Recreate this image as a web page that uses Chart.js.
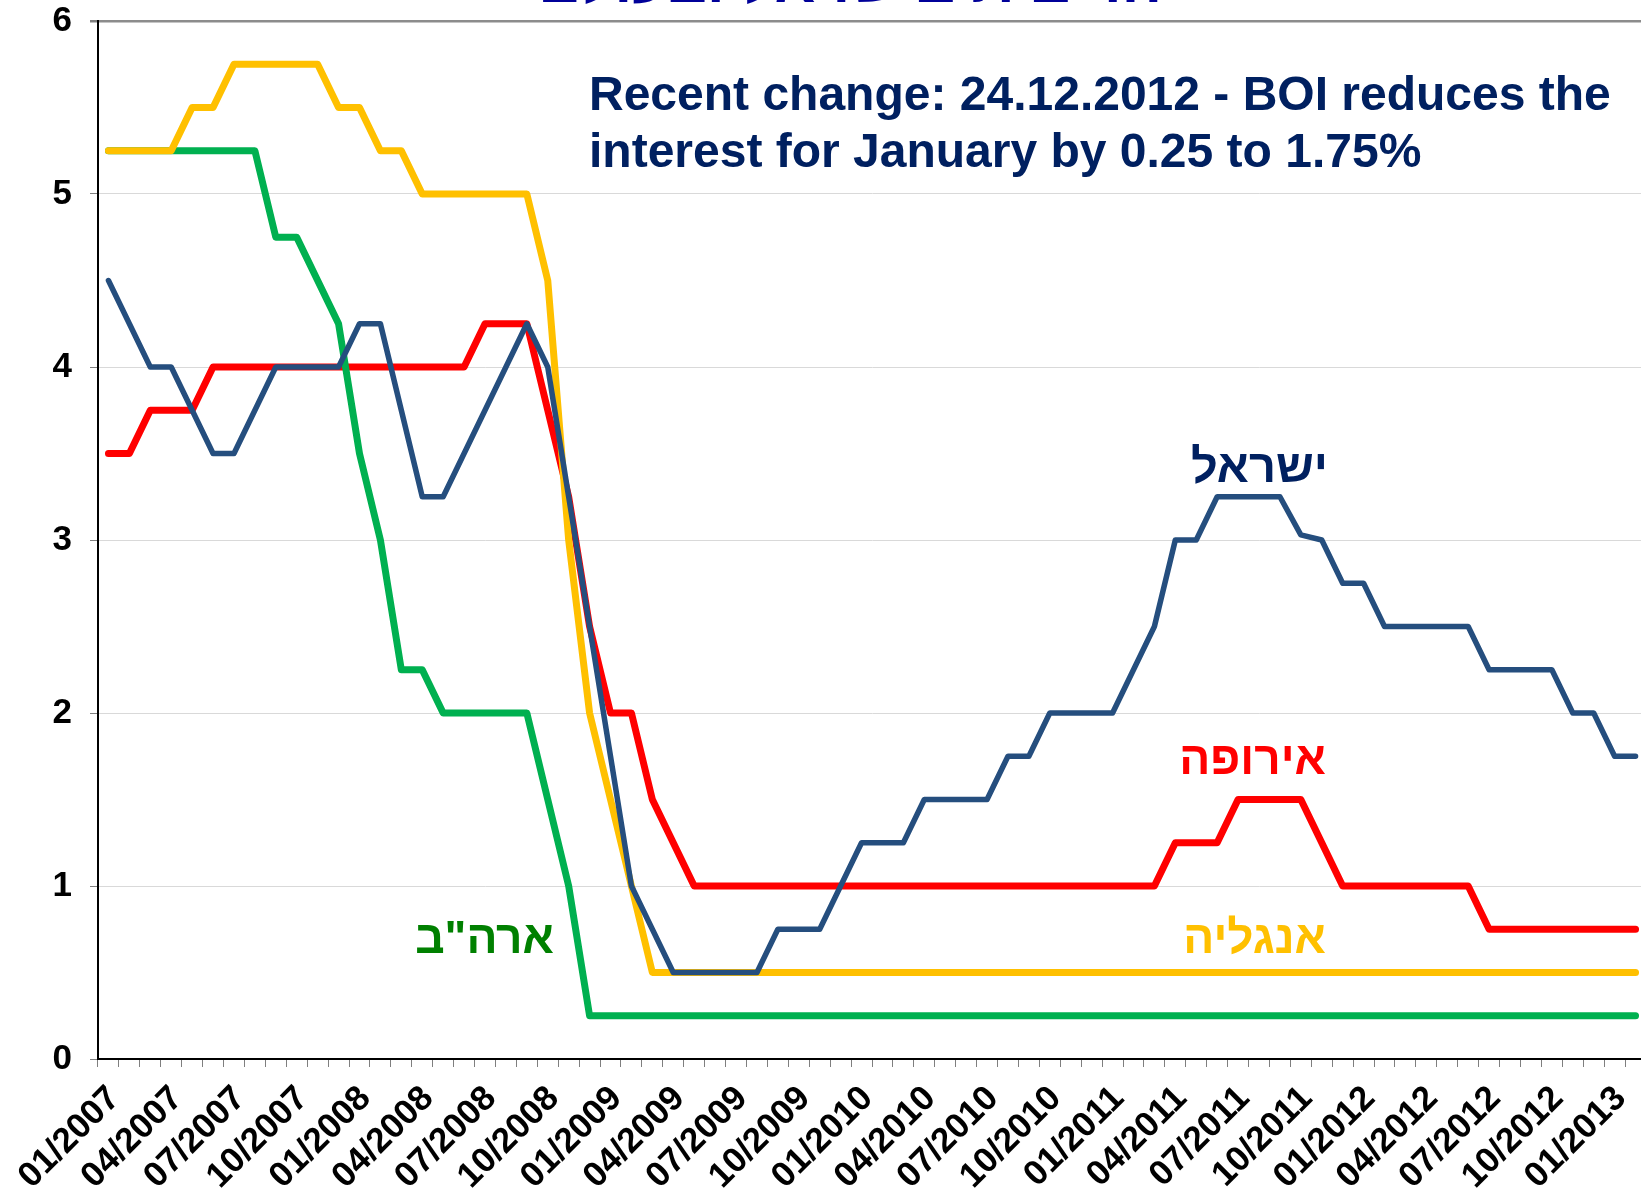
<!DOCTYPE html>
<html>
<head>
<meta charset="utf-8">
<script src="https://cdn.jsdelivr.net/npm/chart.js@4.4.1/dist/chart.umd.min.js"></script>
<style>
  html, body { margin: 0; padding: 0; background: #ffffff; overflow: hidden; width: 1641px; height: 1193px; }
  #wrap { position: absolute; left: 0; top: 0; width: 1641px; height: 1193px; overflow: hidden; }
  canvas { position: absolute; left: 0; top: 0; }
  .lbl { position: absolute; font-family: "Liberation Sans", Arial, "DejaVu Sans", sans-serif; font-weight: bold; white-space: nowrap; }
  .heb { direction: rtl; text-align: right; width: 320px; font-size: 46px; line-height: 46px; }
</style>
</head>
<body>
<div id="wrap">
  <canvas id="c" width="1660" height="1193"></canvas>
  <div class="lbl" style="left:480px; top:-50px; width:740px; text-align:center; direction:rtl; font-size:60px; line-height:64px; color:#000099;">הריבית בישראל ובעולם</div>
  <div class="lbl" style="left:589px; top:65px; font-size:48px; line-height:57px; color:#002060;">Recent change: 24.12.2012 - BOI reduces the<br>interest for January by 0.25 to 1.75%</div>
  <div class="lbl heb" style="left:1008px; top:443px; color:#002060; font-size:47px;">ישראל</div>
  <div class="lbl heb" style="left:1006px; top:735px; color:#FF0000;">אירופה</div>
  <div class="lbl heb" style="left:1006px; top:914px; color:#FFC000;">אנגליה</div>
  <div class="lbl heb" style="left:234px; top:914px; color:#008000;">ארה"ב</div>
</div>
<script>
const months = [
  "01/2007","02/2007","03/2007","04/2007","05/2007","06/2007","07/2007","08/2007","09/2007","10/2007","11/2007","12/2007",
  "01/2008","02/2008","03/2008","04/2008","05/2008","06/2008","07/2008","08/2008","09/2008","10/2008","11/2008","12/2008",
  "01/2009","02/2009","03/2009","04/2009","05/2009","06/2009","07/2009","08/2009","09/2009","10/2009","11/2009","12/2009",
  "01/2010","02/2010","03/2010","04/2010","05/2010","06/2010","07/2010","08/2010","09/2010","10/2010","11/2010","12/2010",
  "01/2011","02/2011","03/2011","04/2011","05/2011","06/2011","07/2011","08/2011","09/2011","10/2011","11/2011","12/2011",
  "01/2012","02/2012","03/2012","04/2012","05/2012","06/2012","07/2012","08/2012","09/2012","10/2012","11/2012","12/2012",
  "01/2013","02/2013"
];

const israel = [
  4.5, 4.25, 4.0, 4.0, 3.75, 3.5, 3.5, 3.75, 4.0, 4.0, 4.0, 4.0,
  4.25, 4.25, 3.75, 3.25, 3.25, 3.5, 3.75, 4.0, 4.25, 4.0, 3.25, 2.5,
  1.75, 1.0, 0.75, 0.5, 0.5, 0.5, 0.5, 0.5, 0.75, 0.75, 0.75, 1.0,
  1.25, 1.25, 1.25, 1.5, 1.5, 1.5, 1.5, 1.75, 1.75, 2.0, 2.0, 2.0,
  2.0, 2.25, 2.5, 3.0, 3.0, 3.25, 3.25, 3.25, 3.25, 3.03, 3.0, 2.75,
  2.75, 2.5, 2.5, 2.5, 2.5, 2.5, 2.25, 2.25, 2.25, 2.25, 2.0, 2.0,
  1.75, 1.75
];

const europe = [
  3.5, 3.5, 3.75, 3.75, 3.75, 4.0, 4.0, 4.0, 4.0, 4.0, 4.0, 4.0,
  4.0, 4.0, 4.0, 4.0, 4.0, 4.0, 4.25, 4.25, 4.25, 3.75, 3.25, 2.5,
  2.0, 2.0, 1.5, 1.25, 1.0, 1.0, 1.0, 1.0, 1.0, 1.0, 1.0, 1.0,
  1.0, 1.0, 1.0, 1.0, 1.0, 1.0, 1.0, 1.0, 1.0, 1.0, 1.0, 1.0,
  1.0, 1.0, 1.0, 1.25, 1.25, 1.25, 1.5, 1.5, 1.5, 1.5, 1.25, 1.0,
  1.0, 1.0, 1.0, 1.0, 1.0, 1.0, 0.75, 0.75, 0.75, 0.75, 0.75, 0.75,
  0.75, 0.75
];

const england = [
  5.25, 5.25, 5.25, 5.25, 5.5, 5.5, 5.75, 5.75, 5.75, 5.75, 5.75, 5.5,
  5.5, 5.25, 5.25, 5.0, 5.0, 5.0, 5.0, 5.0, 5.0, 4.5, 3.0, 2.0,
  1.5, 1.0, 0.5, 0.5, 0.5, 0.5, 0.5, 0.5, 0.5, 0.5, 0.5, 0.5,
  0.5, 0.5, 0.5, 0.5, 0.5, 0.5, 0.5, 0.5, 0.5, 0.5, 0.5, 0.5,
  0.5, 0.5, 0.5, 0.5, 0.5, 0.5, 0.5, 0.5, 0.5, 0.5, 0.5, 0.5,
  0.5, 0.5, 0.5, 0.5, 0.5, 0.5, 0.5, 0.5, 0.5, 0.5, 0.5, 0.5,
  0.5, 0.5
];

const usa = [
  5.25, 5.25, 5.25, 5.25, 5.25, 5.25, 5.25, 5.25, 4.75, 4.75, 4.5, 4.25,
  3.5, 3.0, 2.25, 2.25, 2.0, 2.0, 2.0, 2.0, 2.0, 1.5, 1.0, 0.25,
  0.25, 0.25, 0.25, 0.25, 0.25, 0.25, 0.25, 0.25, 0.25, 0.25, 0.25, 0.25,
  0.25, 0.25, 0.25, 0.25, 0.25, 0.25, 0.25, 0.25, 0.25, 0.25, 0.25, 0.25,
  0.25, 0.25, 0.25, 0.25, 0.25, 0.25, 0.25, 0.25, 0.25, 0.25, 0.25, 0.25,
  0.25, 0.25, 0.25, 0.25, 0.25, 0.25, 0.25, 0.25, 0.25, 0.25, 0.25, 0.25,
  0.25, 0.25
];

const yTicks = [0, 1, 2, 3, 4, 5, 6];
const labelEvery = 3;

function line(label, data, color, width, order) {
  return {
    label, data, borderColor: color, backgroundColor: color, borderWidth: width,
    pointRadius: 0, pointHoverRadius: 0, tension: 0, fill: false, order,
    borderCapStyle: 'round', borderJoinStyle: 'round'
  };
}

new Chart(document.getElementById('c'), {
  type: 'line',
  data: {
    labels: months,
    datasets: [
      line('ישראל', israel, '#254E7E', 5.5, 0),
      line('אנגליה', england, '#FFC000', 7, 1),
      line('ארה"ב', usa, '#00B050', 7, 2),
      line('אירופה', europe, '#FF0000', 7, 3)
    ]
  },
  options: {
    responsive: false,
    animation: false,
    events: [],
    layout: { padding: { top: 21, right: 14, left: 0, bottom: 0 } },
    plugins: { legend: { display: false }, tooltip: { enabled: false }, title: { display: false } },
    scales: {
      x: {
        type: 'category',
        offset: true,
        grid: { offset: true, drawOnChartArea: false, drawTicks: true, tickLength: 8, color: '#7f7f7f', lineWidth: 1 },
        border: { display: true, color: '#000000', width: 2 },
        ticks: {
          autoSkip: false, maxRotation: 45, minRotation: 45, padding: 11, labelOffset: 6,
          color: '#000000',
          font: { family: '"Liberation Sans", Arial, sans-serif', weight: 'bold', size: 35 },
          callback: function (v, i) { return i % labelEvery === 0 ? months[i] : ''; }
        },
        afterFit: function (s) { s.height = 134; s.paddingLeft = 0; s.paddingRight = 0; }
      },
      y: {
        min: yTicks[0], max: yTicks[yTicks.length - 1],
        afterBuildTicks: function (s) { s.ticks = yTicks.map(v => ({ value: v })); },
        grid: {
          drawTicks: true, tickLength: 8,
          color: (c) => c.tick && c.tick.value === 6 ? '#8c8c8c' : '#d9d9d9',
          lineWidth: (c) => c.tick && c.tick.value === 6 ? 2.5 : 1,
          tickColor: '#7f7f7f'
        },
        border: { display: true, color: '#000000', width: 2 },
        ticks: {
          padding: 18, color: '#000000',
          font: { family: '"Liberation Sans", Arial, sans-serif', weight: 'bold', size: 35 }
        },
        afterFit: function (s) { s.width = 98; s.paddingTop = 0; s.paddingBottom = 0; }
      }
    }
  }
});
</script>
</body>
</html>
